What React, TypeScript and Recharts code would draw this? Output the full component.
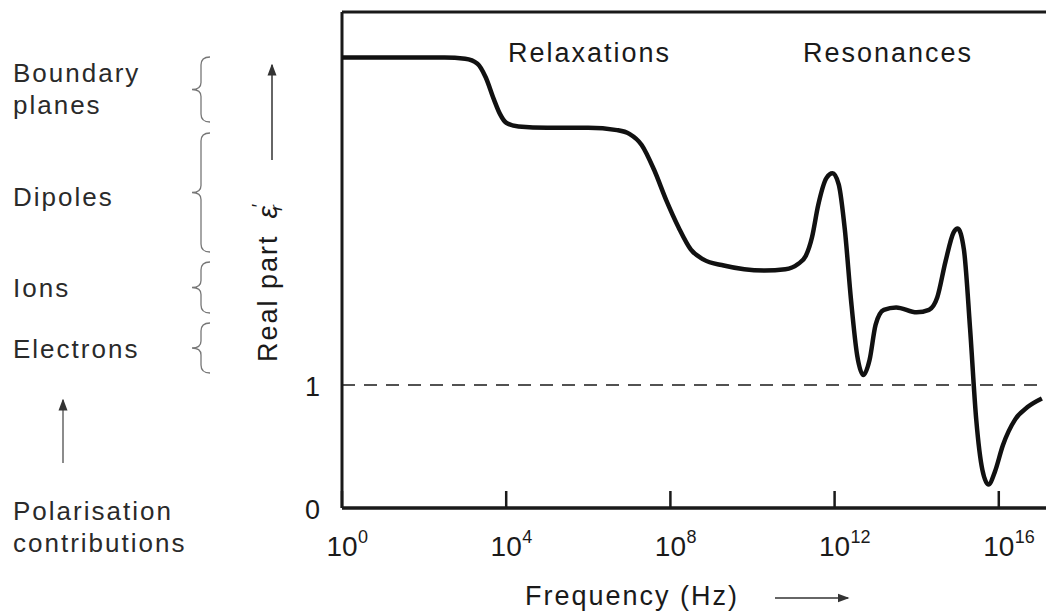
import React from 'react';
import { LineChart, Line, XAxis, YAxis, ReferenceLine } from 'recharts';

// log10(frequency / Hz)
const logFreq = [
  0, 1, 2, 2.5, 3.0, 3.3, 3.5, 3.7, 3.85, 4.0, 4.3, 5, 6, 6.7, 7.0, 7.3, 7.6, 7.9, 8.2, 8.5,
  8.8, 9.3, 9.8, 10.3, 10.8, 11.1, 11.3, 11.45, 11.6, 11.8, 11.95, 12.1, 12.25, 12.4, 12.55,
  12.7, 12.85, 13.0, 13.2, 13.5, 14, 14.3, 14.5, 14.7, 14.9, 15.0, 15.15, 15.3, 15.45, 15.6,
  15.75, 15.9, 16.1, 16.4, 16.7, 17.05,
];

// real part of relative permittivity
const epsReal = [
  3.66, 3.66, 3.66, 3.66, 3.65, 3.61, 3.5, 3.32, 3.2, 3.13, 3.1, 3.09, 3.09, 3.07, 3.04,
  2.95, 2.75, 2.5, 2.28, 2.1, 2.02, 1.97, 1.94, 1.93, 1.94, 1.98, 2.05, 2.2, 2.46, 2.68,
  2.72, 2.63, 2.26, 1.69, 1.24, 1.08, 1.2, 1.49, 1.61, 1.63, 1.59, 1.61, 1.71, 2.0, 2.24,
  2.27, 2.1, 1.46, 0.72, 0.31, 0.19, 0.29, 0.51, 0.72, 0.82, 0.89,
];

const freqTicks = [0, 4, 8, 12, 16];
const epsTicks = [0, 1];

const contributions = [
  { lines: ['Boundary', 'planes'], baseline: 82, top: 57, bottom: 122 },
  { lines: ['Dipoles'], baseline: 206, top: 133, bottom: 252 },
  { lines: ['Ions'], baseline: 297, top: 262, bottom: 313 },
  { lines: ['Electrons'], baseline: 358, top: 323, bottom: 373 },
];

const data = logFreq.map((f, i) => ({ f, eps: epsReal[i] }));

const FONT = 'Arial, "Liberation Sans", Helvetica, sans-serif';
const INK = '#1a1a1a';

const FreqTick = (props: any) => {
  const { x, y, payload } = props;
  return (
    <g>
      <line x1={x} x2={x} y1={y} y2={y - 17} stroke={INK} strokeWidth={2.5} />
      <text x={x} y={y + 48} textAnchor="middle" fontSize={28} fontFamily={FONT} fill={INK}>
        10
      </text>
      <text x={x + 16} y={y + 35} textAnchor="start" fontSize={18} fontFamily={FONT} fill={INK}>
        {payload.value}
      </text>
    </g>
  );
};

const EpsTick = (props: any) => {
  const { x, y, payload } = props;
  return (
    <text x={x - 22} y={y + 11} textAnchor="end" fontSize={27} fontFamily={FONT} fill={INK}>
      {payload.value}
    </text>
  );
};

const brace = (top: number, bottom: number) => {
  const mid = (top + bottom) / 2;
  const r = 210;
  const s = 201;
  const tip = 192;
  return `M ${r} ${top} Q ${s} ${top} ${s} ${top + 8} L ${s} ${mid - 7} Q ${s} ${mid} ${tip} ${mid} Q ${s} ${mid} ${s} ${mid + 7} L ${s} ${bottom - 8} Q ${s} ${bottom} ${r} ${bottom}`;
};

function Annotations() {
  return (
    <svg
      width={1046}
      height={614}
      style={{ position: 'absolute', left: 0, top: 0, pointerEvents: 'none' }}
    >
      <defs>
        <marker id="head" markerWidth="8" markerHeight="8" refX="7" refY="4" orient="auto">
          <path d="M0,1 L8,4 L0,7 Z" fill="#333" />
        </marker>
      </defs>

      {contributions.map((c) => (
        <g key={c.lines[0]}>
          {c.lines.map((t, i) => (
            <text
              key={t}
              x={13}
              y={c.baseline + i * 32}
              fontSize={26}
              fontFamily={FONT}
              letterSpacing={2}
              fill="#2a2a2a"
            >
              {t}
            </text>
          ))}
          <path d={brace(c.top, c.bottom)} fill="none" stroke="#777" strokeWidth={1.3} />
        </g>
      ))}

      <line x1={63} y1={463} x2={63} y2={400} stroke="#666" strokeWidth={1.5} markerEnd="url(#head)" />
      <text x={13} y={520} fontSize={26} fontFamily={FONT} letterSpacing={2} fill="#2a2a2a">
        Polarisation
      </text>
      <text x={13} y={552} fontSize={26} fontFamily={FONT} letterSpacing={2} fill="#2a2a2a">
        contributions
      </text>

      <text
        x={277}
        y={362}
        transform="rotate(-90 277 362)"
        fontSize={27}
        fontFamily={FONT}
        fill={INK}
      >
        <tspan letterSpacing={2}>Real part</tspan>
        <tspan dx={16} fontStyle="italic" fontSize={28}>ε</tspan>
        <tspan dx={-1} dy={-12} fontSize={18}>′</tspan>
        <tspan dx={-7} dy={17} fontSize={17} fontStyle="italic">r</tspan>
      </text>
      <line x1={272} y1={160} x2={272} y2={65} stroke="#333" strokeWidth={1.5} markerEnd="url(#head)" />

      <text x={508} y={62} fontSize={27} fontFamily={FONT} letterSpacing={2} fill={INK}>
        Relaxations
      </text>
      <text x={803} y={62} fontSize={27} fontFamily={FONT} letterSpacing={2} fill={INK}>
        Resonances
      </text>

      <text x={525} y={605} fontSize={27} fontFamily={FONT} letterSpacing={2} fill={INK}>
        Frequency (Hz)
      </text>
      <line x1={775} y1={598} x2={848} y2={598} stroke="#333" strokeWidth={1.5} markerEnd="url(#head)" />
    </svg>
  );
}

export default function App() {
  return (
    <div style={{ position: 'absolute', left: 0, top: 0, width: 1046, height: 614, background: '#fff' }}>
      <LineChart
        width={1046}
        height={614}
        data={data}
        margin={{ top: 12, right: 0, bottom: 76, left: 282 }}
      >
        <XAxis
          type="number"
          dataKey="f"
          domain={[0, 17.15]}
          ticks={freqTicks}
          height={30}
          tickSize={0}
          tickMargin={0}
          tickLine={false}
          axisLine={false}
          tick={FreqTick}
          interval={0}
        />
        <YAxis
          type="number"
          domain={[0, 4.03]}
          ticks={epsTicks}
          width={60}
          tickSize={0}
          tickMargin={0}
          tickLine={false}
          axisLine={false}
          tick={EpsTick}
          interval={0}
        />
        <ReferenceLine y={4.03} stroke={INK} strokeWidth={3} />
        <ReferenceLine y={0} stroke={INK} strokeWidth={3.4} />
        <ReferenceLine x={0} stroke={INK} strokeWidth={3} />
        <ReferenceLine y={1} stroke={INK} strokeWidth={1.5} strokeDasharray="13 9" />
        <Line
          type="monotone"
          dataKey="eps"
          stroke="#111"
          strokeWidth={4.5}
          dot={false}
          isAnimationActive={false}
        />
      </LineChart>
      <Annotations />
    </div>
  );
}
